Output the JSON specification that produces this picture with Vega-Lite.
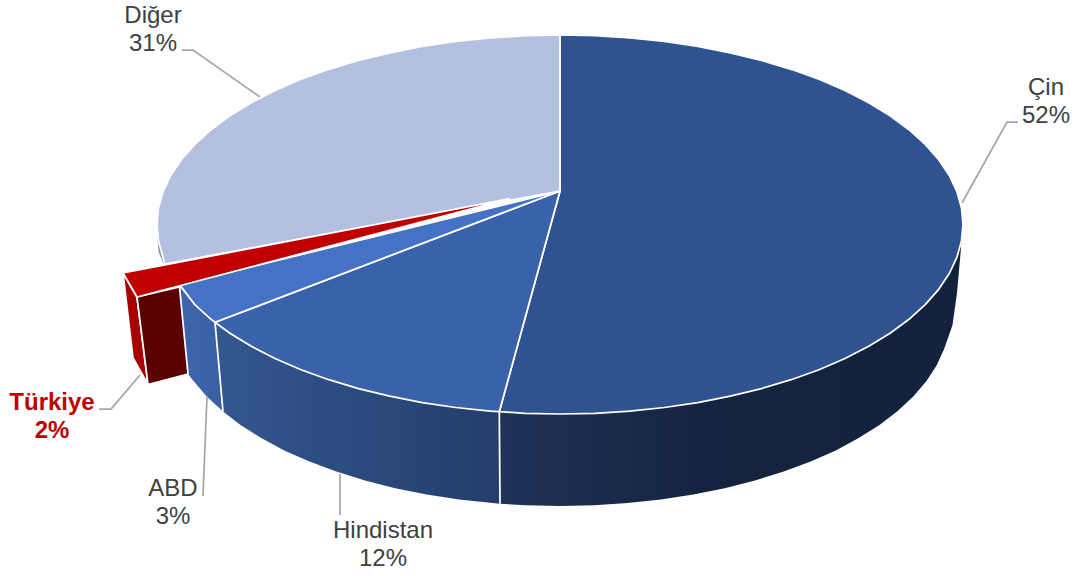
{"$schema":"https://vega.github.io/schema/vega-lite/v6.json","width":1076,"height":576,"padding":0,"autosize":{"type":"fit","contains":"padding"},"background":"white","view":{"stroke":null},
"datasets":{"dilim":[
{"p":"Çin yan","pay":52,"s":1,"x":49.93,"y":41.17},{"p":"Çin yan","pay":52,"s":2,"x":52.49,"y":41.33},{"p":"Çin yan","pay":52,"s":3,"x":56,"y":41.4},{"p":"Çin yan","pay":52,"s":4,"x":59.51,"y":41.33},{"p":"Çin yan","pay":52,"s":5,"x":63,"y":41.11},{"p":"Çin yan","pay":52,"s":6,"x":66.43,"y":40.75},{"p":"Çin yan","pay":52,"s":7,"x":69.78,"y":40.26},{"p":"Çin yan","pay":52,"s":8,"x":73.03,"y":39.62},{"p":"Çin yan","pay":52,"s":9,"x":76.15,"y":38.86},{"p":"Çin yan","pay":52,"s":10,"x":79.12,"y":37.97},{"p":"Çin yan","pay":52,"s":11,"x":81.9,"y":36.97},{"p":"Çin yan","pay":52,"s":12,"x":84.5,"y":35.85},{"p":"Çin yan","pay":52,"s":13,"x":86.87,"y":34.63},{"p":"Çin yan","pay":52,"s":14,"x":89.01,"y":33.32},{"p":"Çin yan","pay":52,"s":15,"x":90.9,"y":31.93},{"p":"Çin yan","pay":52,"s":16,"x":92.52,"y":30.46},{"p":"Çin yan","pay":52,"s":17,"x":93.87,"y":28.93},{"p":"Çin yan","pay":52,"s":18,"x":94.93,"y":27.35},{"p":"Çin yan","pay":52,"s":19,"x":95.69,"y":25.74},{"p":"Çin yan","pay":52,"s":20,"x":96.15,"y":24.1},{"p":"Çin yan","pay":52,"s":21,"x":96.1,"y":24.8},{"p":"Çin yan","pay":52,"s":22,"x":95.7,"y":29.3},{"p":"Çin yan","pay":52,"s":23,"x":95.25,"y":32.5},{"p":"Çin yan","pay":52,"s":24,"x":94.8,"y":33.8},{"p":"Çin yan","pay":52,"s":25,"x":94.41,"y":34.9},{"p":"Çin yan","pay":52,"s":26,"x":93.67,"y":36.52},{"p":"Çin yan","pay":52,"s":27,"x":92.65,"y":38.1},{"p":"Çin yan","pay":52,"s":28,"x":91.35,"y":39.63},{"p":"Çin yan","pay":52,"s":29,"x":89.77,"y":41.1},{"p":"Çin yan","pay":52,"s":30,"x":87.95,"y":42.5},{"p":"Çin yan","pay":52,"s":31,"x":85.87,"y":43.81},{"p":"Çin yan","pay":52,"s":32,"x":83.58,"y":45.04},{"p":"Çin yan","pay":52,"s":33,"x":81.07,"y":46.15},{"p":"Çin yan","pay":52,"s":34,"x":78.37,"y":47.16},{"p":"Çin yan","pay":52,"s":35,"x":75.5,"y":48.05},{"p":"Çin yan","pay":52,"s":36,"x":72.48,"y":48.82},{"p":"Çin yan","pay":52,"s":37,"x":69.34,"y":49.45},{"p":"Çin yan","pay":52,"s":38,"x":66.09,"y":49.95},{"p":"Çin yan","pay":52,"s":39,"x":62.77,"y":50.31},{"p":"Çin yan","pay":52,"s":40,"x":59.4,"y":50.53},{"p":"Çin yan","pay":52,"s":41,"x":56,"y":50.6},{"p":"Çin yan","pay":52,"s":42,"x":52.6,"y":50.53},{"p":"Çin yan","pay":52,"s":43,"x":50,"y":50.37},

{"p":"Hindistan yan","pay":12,"s":1,"x":49.93,"y":41.17},{"p":"Hindistan yan","pay":12,"s":2,"x":49,"y":41.11},{"p":"Hindistan yan","pay":12,"s":3,"x":45.57,"y":40.75},{"p":"Hindistan yan","pay":12,"s":4,"x":42.22,"y":40.26},{"p":"Hindistan yan","pay":12,"s":5,"x":38.97,"y":39.62},{"p":"Hindistan yan","pay":12,"s":6,"x":35.85,"y":38.86},{"p":"Hindistan yan","pay":12,"s":7,"x":32.88,"y":37.97},{"p":"Hindistan yan","pay":12,"s":8,"x":30.1,"y":36.97},{"p":"Hindistan yan","pay":12,"s":9,"x":27.5,"y":35.85},{"p":"Hindistan yan","pay":12,"s":10,"x":25.13,"y":34.63},{"p":"Hindistan yan","pay":12,"s":11,"x":22.99,"y":33.32},{"p":"Hindistan yan","pay":12,"s":12,"x":21.5,"y":32.23},{"p":"Hindistan yan","pay":12,"s":13,"x":22.3,"y":41.15},{"p":"Hindistan yan","pay":12,"s":14,"x":24.05,"y":42.5},{"p":"Hindistan yan","pay":12,"s":15,"x":26.13,"y":43.81},{"p":"Hindistan yan","pay":12,"s":16,"x":28.42,"y":45.04},{"p":"Hindistan yan","pay":12,"s":17,"x":30.93,"y":46.15},{"p":"Hindistan yan","pay":12,"s":18,"x":33.63,"y":47.16},{"p":"Hindistan yan","pay":12,"s":19,"x":36.5,"y":48.05},{"p":"Hindistan yan","pay":12,"s":20,"x":39.52,"y":48.82},{"p":"Hindistan yan","pay":12,"s":21,"x":42.66,"y":49.45},{"p":"Hindistan yan","pay":12,"s":22,"x":45.91,"y":49.95},{"p":"Hindistan yan","pay":12,"s":23,"x":49.23,"y":50.31},{"p":"Hindistan yan","pay":12,"s":24,"x":50,"y":50.37},

{"p":"ABD yan","pay":3,"s":1,"x":21.5,"y":32.23},{"p":"ABD yan","pay":3,"s":2,"x":21.1,"y":31.93},{"p":"ABD yan","pay":3,"s":3,"x":19.48,"y":30.46},{"p":"ABD yan","pay":3,"s":4,"x":18,"y":28.7},{"p":"ABD yan","pay":3,"s":5,"x":18.8,"y":37.4},{"p":"ABD yan","pay":3,"s":6,"x":19.35,"y":38.1},{"p":"ABD yan","pay":3,"s":7,"x":20.65,"y":39.63},{"p":"ABD yan","pay":3,"s":8,"x":22.3,"y":41.15},

{"p":"Diğer yan","pay":31,"s":1,"x":15.7,"y":23.5},{"p":"Diğer yan","pay":31,"s":2,"x":15.85,"y":25.2},{"p":"Diğer yan","pay":31,"s":3,"x":16.4,"y":26.5},{"p":"Diğer yan","pay":31,"s":4,"x":16.8,"y":26.3},{"p":"Diğer yan","pay":31,"s":5,"x":16.5,"y":24},

{"p":"sınır 1","pay":52,"s":0,"x":49.93,"y":41.17},{"p":"sınır 1","pay":52,"s":1,"x":50,"y":50.37},
{"p":"sınır 2","pay":12,"s":0,"x":21.5,"y":32.23},{"p":"sınır 2","pay":12,"s":1,"x":22.3,"y":41.15},

{"p":"Çin üst","pay":52,"s":0,"x":56,"y":19.1},{"p":"Çin üst","pay":52,"s":1,"x":56,"y":3.5},{"p":"Çin üst","pay":52,"s":2,"x":59.51,"y":3.57},{"p":"Çin üst","pay":52,"s":3,"x":63,"y":3.79},{"p":"Çin üst","pay":52,"s":4,"x":66.43,"y":4.15},{"p":"Çin üst","pay":52,"s":5,"x":69.78,"y":4.64},{"p":"Çin üst","pay":52,"s":6,"x":73.03,"y":5.28},{"p":"Çin üst","pay":52,"s":7,"x":76.15,"y":6.04},{"p":"Çin üst","pay":52,"s":8,"x":79.12,"y":6.93},{"p":"Çin üst","pay":52,"s":9,"x":81.9,"y":7.93},{"p":"Çin üst","pay":52,"s":10,"x":84.5,"y":9.05},{"p":"Çin üst","pay":52,"s":11,"x":86.87,"y":10.27},{"p":"Çin üst","pay":52,"s":12,"x":89.01,"y":11.58},{"p":"Çin üst","pay":52,"s":13,"x":90.9,"y":12.97},{"p":"Çin üst","pay":52,"s":14,"x":92.52,"y":14.44},{"p":"Çin üst","pay":52,"s":15,"x":93.87,"y":15.97},{"p":"Çin üst","pay":52,"s":16,"x":94.93,"y":17.55},{"p":"Çin üst","pay":52,"s":17,"x":95.69,"y":19.16},{"p":"Çin üst","pay":52,"s":18,"x":96.15,"y":20.8},{"p":"Çin üst","pay":52,"s":19,"x":96.3,"y":22.45},{"p":"Çin üst","pay":52,"s":20,"x":96.15,"y":24.1},{"p":"Çin üst","pay":52,"s":21,"x":95.69,"y":25.74},{"p":"Çin üst","pay":52,"s":22,"x":94.93,"y":27.35},{"p":"Çin üst","pay":52,"s":23,"x":93.87,"y":28.93},{"p":"Çin üst","pay":52,"s":24,"x":92.52,"y":30.46},{"p":"Çin üst","pay":52,"s":25,"x":90.9,"y":31.93},{"p":"Çin üst","pay":52,"s":26,"x":89.01,"y":33.32},{"p":"Çin üst","pay":52,"s":27,"x":86.87,"y":34.63},{"p":"Çin üst","pay":52,"s":28,"x":84.5,"y":35.85},{"p":"Çin üst","pay":52,"s":29,"x":81.9,"y":36.97},{"p":"Çin üst","pay":52,"s":30,"x":79.12,"y":37.97},{"p":"Çin üst","pay":52,"s":31,"x":76.15,"y":38.86},{"p":"Çin üst","pay":52,"s":32,"x":73.03,"y":39.62},{"p":"Çin üst","pay":52,"s":33,"x":69.78,"y":40.26},{"p":"Çin üst","pay":52,"s":34,"x":66.43,"y":40.75},{"p":"Çin üst","pay":52,"s":35,"x":63,"y":41.11},{"p":"Çin üst","pay":52,"s":36,"x":59.51,"y":41.33},{"p":"Çin üst","pay":52,"s":37,"x":56,"y":41.4},{"p":"Çin üst","pay":52,"s":38,"x":52.49,"y":41.33},{"p":"Çin üst","pay":52,"s":39,"x":49.93,"y":41.17},{"p":"Çin üst","pay":52,"s":40,"x":56,"y":19.1},

{"p":"Hindistan üst","pay":12,"s":0,"x":56,"y":19.1},{"p":"Hindistan üst","pay":12,"s":1,"x":49.93,"y":41.17},{"p":"Hindistan üst","pay":12,"s":2,"x":49,"y":41.11},{"p":"Hindistan üst","pay":12,"s":3,"x":45.57,"y":40.75},{"p":"Hindistan üst","pay":12,"s":4,"x":42.22,"y":40.26},{"p":"Hindistan üst","pay":12,"s":5,"x":38.97,"y":39.62},{"p":"Hindistan üst","pay":12,"s":6,"x":35.85,"y":38.86},{"p":"Hindistan üst","pay":12,"s":7,"x":32.88,"y":37.97},{"p":"Hindistan üst","pay":12,"s":8,"x":30.1,"y":36.97},{"p":"Hindistan üst","pay":12,"s":9,"x":27.5,"y":35.85},{"p":"Hindistan üst","pay":12,"s":10,"x":25.13,"y":34.63},{"p":"Hindistan üst","pay":12,"s":11,"x":22.99,"y":33.32},{"p":"Hindistan üst","pay":12,"s":12,"x":21.5,"y":32.23},{"p":"Hindistan üst","pay":12,"s":13,"x":56,"y":19.1},

{"p":"ABD üst","pay":3,"s":0,"x":56,"y":19.1},{"p":"ABD üst","pay":3,"s":1,"x":21.5,"y":32.23},{"p":"ABD üst","pay":3,"s":2,"x":21.1,"y":31.93},{"p":"ABD üst","pay":3,"s":3,"x":19.48,"y":30.46},{"p":"ABD üst","pay":3,"s":4,"x":17.95,"y":28.45},{"p":"ABD üst","pay":3,"s":5,"x":56,"y":19.1},

{"p":"Diğer üst","pay":31,"s":0,"x":56,"y":19.1},{"p":"Diğer üst","pay":31,"s":1,"x":16.45,"y":26.4},{"p":"Diğer üst","pay":31,"s":2,"x":16.31,"y":25.74},{"p":"Diğer üst","pay":31,"s":3,"x":15.85,"y":24.1},{"p":"Diğer üst","pay":31,"s":4,"x":15.7,"y":22.45},{"p":"Diğer üst","pay":31,"s":5,"x":15.85,"y":20.8},{"p":"Diğer üst","pay":31,"s":6,"x":16.31,"y":19.16},{"p":"Diğer üst","pay":31,"s":7,"x":17.07,"y":17.55},{"p":"Diğer üst","pay":31,"s":8,"x":18.13,"y":15.97},{"p":"Diğer üst","pay":31,"s":9,"x":19.48,"y":14.44},{"p":"Diğer üst","pay":31,"s":10,"x":21.1,"y":12.97},{"p":"Diğer üst","pay":31,"s":11,"x":22.99,"y":11.58},{"p":"Diğer üst","pay":31,"s":12,"x":25.13,"y":10.27},{"p":"Diğer üst","pay":31,"s":13,"x":27.5,"y":9.05},{"p":"Diğer üst","pay":31,"s":14,"x":30.1,"y":7.93},{"p":"Diğer üst","pay":31,"s":15,"x":32.88,"y":6.93},{"p":"Diğer üst","pay":31,"s":16,"x":35.85,"y":6.04},{"p":"Diğer üst","pay":31,"s":17,"x":38.97,"y":5.28},{"p":"Diğer üst","pay":31,"s":18,"x":42.22,"y":4.64},{"p":"Diğer üst","pay":31,"s":19,"x":45.57,"y":4.15},{"p":"Diğer üst","pay":31,"s":20,"x":49,"y":3.79},{"p":"Diğer üst","pay":31,"s":21,"x":52.49,"y":3.57},{"p":"Diğer üst","pay":31,"s":22,"x":56,"y":3.5},{"p":"Diğer üst","pay":31,"s":23,"x":56,"y":19.1},

{"p":"Türkiye sol","pay":2,"s":0,"x":12.3,"y":27.3},{"p":"Türkiye sol","pay":2,"s":1,"x":13.7,"y":29.7},{"p":"Türkiye sol","pay":2,"s":2,"x":14.8,"y":38.45},{"p":"Türkiye sol","pay":2,"s":3,"x":13.3,"y":35.8},{"p":"Türkiye sol","pay":2,"s":4,"x":12.3,"y":27.3},

{"p":"Türkiye ön","pay":2,"s":0,"x":13.7,"y":29.7},{"p":"Türkiye ön","pay":2,"s":1,"x":17.95,"y":28.7},{"p":"Türkiye ön","pay":2,"s":2,"x":18.8,"y":37.4},{"p":"Türkiye ön","pay":2,"s":3,"x":14.8,"y":38.45},{"p":"Türkiye ön","pay":2,"s":4,"x":13.7,"y":29.7},

{"p":"Türkiye üst","pay":2,"s":0,"x":51,"y":19.85},{"p":"Türkiye üst","pay":2,"s":1,"x":13.7,"y":29.7},{"p":"Türkiye üst","pay":2,"s":2,"x":12.3,"y":27.3},{"p":"Türkiye üst","pay":2,"s":3,"x":51,"y":19.85}
],
"kilavuz":[
{"k":"Çin","s":0,"x":96.2,"y":20.3},{"k":"Çin","s":1,"x":100.7,"y":12.2},{"k":"Çin","s":2,"x":101.8,"y":12.2},
{"k":"Diğer","s":0,"x":26,"y":9.7},{"k":"Diğer","s":1,"x":19.3,"y":5},{"k":"Diğer","s":2,"x":18.2,"y":5},
{"k":"Hindistan","s":0,"x":34,"y":47.4},{"k":"Hindistan","s":1,"x":34,"y":51.5},
{"k":"ABD","s":0,"x":20.7,"y":39.6},{"k":"ABD","s":1,"x":20.3,"y":49.6},
{"k":"Türkiye","s":0,"x":14,"y":37.5},{"k":"Türkiye","s":1,"x":11.1,"y":40.9},{"k":"Türkiye","s":2,"x":9.9,"y":40.9}
],
"etiket":[
{"t":"Çin","x":104.6,"y":9.5,"vurgu":"hayır"},{"t":"52%","x":104.6,"y":12.3,"vurgu":"hayır"},
{"t":"Diğer","x":15.3,"y":2.3,"vurgu":"hayır"},{"t":"31%","x":15.3,"y":5.1,"vurgu":"hayır"},
{"t":"Hindistan","x":38.3,"y":53.8,"vurgu":"hayır"},{"t":"12%","x":38.3,"y":56.6,"vurgu":"hayır"},
{"t":"ABD","x":17.3,"y":49.6,"vurgu":"hayır"},{"t":"3%","x":17.3,"y":52.4,"vurgu":"hayır"},
{"t":"Türkiye","x":5.2,"y":41,"vurgu":"evet"},{"t":"2%","x":5.2,"y":43.8,"vurgu":"evet"}
]},
"encoding":{
"x":{"field":"x","type":"quantitative","axis":null,"scale":{"domain":[0,107.6],"nice":false,"zero":false}},
"y":{"field":"y","type":"quantitative","axis":null,"scale":{"domain":[57.6,0],"nice":false,"zero":false}}
},
"resolve":{"scale":{"color":"independent"}},
"layer":[
{"data":{"name":"dilim"},"transform":[{"filter":"datum.p==='Çin yan'"}],"mark":{"type":"line","filled":true,"strokeWidth":0,"fill":{"gradient":"linear","x1":0,"x2":1,"y1":0,"y2":0,"stops":[{"offset":0,"color":"#1f3359"},{"offset":0.45,"color":"#14233f"},{"offset":1,"color":"#13223c"}]}},"encoding":{"order":{"field":"s","type":"quantitative"}}},
{"data":{"name":"dilim"},"transform":[{"filter":"datum.p==='Hindistan yan'"}],"mark":{"type":"line","filled":true,"strokeWidth":0,"fill":{"gradient":"linear","x1":0,"x2":1,"y1":0,"y2":0,"stops":[{"offset":0,"color":"#33578f"},{"offset":1,"color":"#243d6b"}]}},"encoding":{"order":{"field":"s","type":"quantitative"}}},
{"data":{"name":"dilim"},"transform":[{"filter":"datum.p==='ABD yan'"}],"mark":{"type":"line","filled":true,"strokeWidth":0,"fill":{"gradient":"linear","x1":0,"x2":1,"y1":0,"y2":0,"stops":[{"offset":0,"color":"#3f66ad"},{"offset":1,"color":"#395fa3"}]}},"encoding":{"order":{"field":"s","type":"quantitative"}}},
{"data":{"name":"dilim"},"transform":[{"filter":"datum.p==='Diğer yan'"}],"mark":{"type":"line","filled":true,"strokeWidth":0,"fill":"#8e9ab8"},"encoding":{"order":{"field":"s","type":"quantitative"}}},
{"data":{"name":"dilim"},"transform":[{"filter":"datum.p==='sınır 1'||datum.p==='sınır 2'"}],"mark":{"type":"line","stroke":"white","strokeWidth":1.75},"encoding":{"detail":{"field":"p"},"order":{"field":"s","type":"quantitative"}}},
{"data":{"name":"dilim"},"transform":[{"filter":"datum.p==='Çin üst'||datum.p==='Hindistan üst'||datum.p==='ABD üst'||datum.p==='Diğer üst'"}],"mark":{"type":"line","filled":true,"stroke":"white","strokeWidth":1.75,"strokeJoin":"round"},"encoding":{"order":{"field":"s","type":"quantitative"},"color":{"field":"p","type":"nominal","legend":null,"scale":{"domain":["Çin üst","Hindistan üst","ABD üst","Diğer üst"],"range":["#2f5391","#3a62aa","#4472c4","#b4c0e0"]}}}},
{"data":{"name":"dilim"},"transform":[{"filter":"datum.p==='Türkiye sol'||datum.p==='Türkiye ön'||datum.p==='Türkiye üst'"}],"mark":{"type":"line","filled":true,"stroke":"white","strokeWidth":1.75,"strokeJoin":"round"},"encoding":{"order":{"field":"s","type":"quantitative"},"color":{"field":"p","type":"nominal","legend":null,"scale":{"domain":["Türkiye sol","Türkiye ön","Türkiye üst"],"range":["#a80000","#5a0000","#c00000"]}}}},
{"data":{"name":"kilavuz"},"mark":{"type":"line","stroke":"#a6a6a6","strokeWidth":1.75},"encoding":{"detail":{"field":"k"},"order":{"field":"s","type":"quantitative"}}},
{"data":{"name":"etiket"},"transform":[{"filter":"datum.vurgu==='hayır'"}],"mark":{"type":"text","font":"Liberation Sans","fontSize":24,"align":"center","baseline":"alphabetic","color":"#404040"},"encoding":{"text":{"field":"t"}}},
{"data":{"name":"etiket"},"transform":[{"filter":"datum.vurgu==='evet'"}],"mark":{"type":"text","font":"Liberation Sans","fontSize":24,"fontWeight":"bold","align":"center","baseline":"alphabetic","color":"#c00000"},"encoding":{"text":{"field":"t"}}}
]}
